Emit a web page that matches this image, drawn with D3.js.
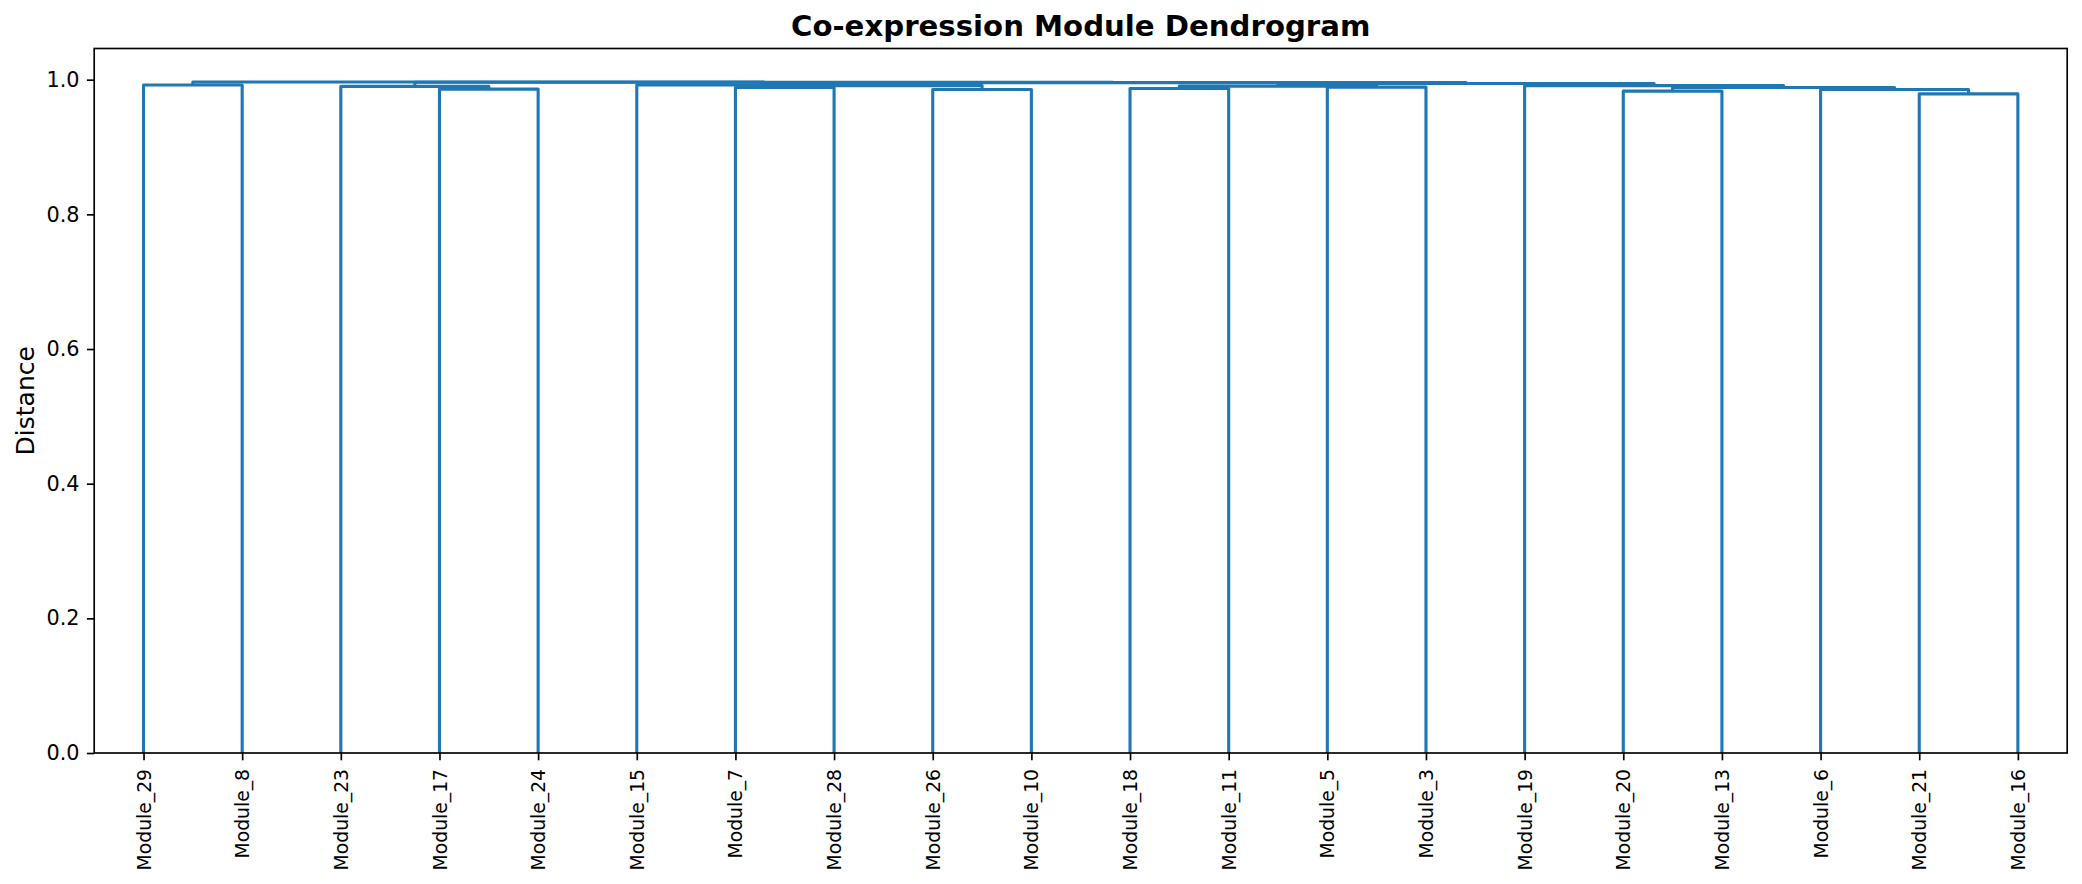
<!DOCTYPE html>
<html><head><meta charset="utf-8">
<script src="https://cdn.jsdelivr.net/npm/d3@7"></script>
<style>body{margin:0;background:#fff} svg{display:block} text{font-family:"DejaVu Sans",sans-serif;fill:#000}</style>
</head><body>
<svg id="chart" width="2082" height="884"></svg>
<script>
// Leaves (indices 0..19)
const leafLabels = ["Module_29","Module_8","Module_23","Module_17","Module_24","Module_15","Module_7","Module_28","Module_26","Module_10",
                    "Module_18","Module_11","Module_5","Module_3","Module_19","Module_20","Module_13","Module_6","Module_21","Module_16"];
// Linkage rows: index >= 20 refers to row (index-20)
const linkLeft   = [18, 15, 3, 8, 17, 10, 21, 6, 12, 2, 25, 14, 27, 0, 5, 30, 34, 29, 33];
const linkRight  = [19, 16, 4, 9, 20, 11, 24, 7, 13, 22, 28, 26, 23, 1, 32, 31, 35, 36, 37];
const linkHeight = [0.979, 0.983, 0.986, 0.9855, 0.9855, 0.987, 0.9885, 0.9885, 0.989, 0.990, 0.9905, 0.9912, 0.9912, 0.9921, 0.9922, 0.9944, 0.9957, 0.9962, 0.9965];
const yTicks = [0.0, 0.2, 0.4, 0.6, 0.8, 1.0];
const titleText = "Co-expression Module Dendrogram";
const yLabelText = "Distance";

const svg = d3.select("#chart");
const L = 94.2, R = 2067.2, T = 48.5, B = 753;
const n = leafLabels.length;

const nodes = leafLabels.map((l, i) => ({id: i, label: l, height: 0}));
linkLeft.forEach((a, k) => nodes.push({id: n + k, height: linkHeight[k], children: [nodes[a], nodes[linkRight[k]]]}));
const root = d3.hierarchy(nodes[nodes.length - 1]);
const leaves = root.leaves();
leaves.forEach((lf, i) => lf.xv = 5 + 10 * i);
root.eachAfter(d => { if (d.children) d.xv = (d.children[0].xv + d.children[1].xv) / 2; });

const maxH = d3.max(linkHeight);
const x = d3.scaleLinear().domain([0, 10 * n]).range([L, R]);
const y = d3.scaleLinear().domain([0, maxH * 1.05]).range([B, T]);

// links
const internals = root.descendants().filter(d => d.children);
svg.append("g").selectAll("path").data(internals).join("path")
  .attr("fill", "none").attr("stroke", "#1f77b4").attr("stroke-width", 3.1)
  .attr("stroke-linejoin", "round").attr("stroke-linecap", "butt")
  .attr("d", d => {
    const [a, b] = d.children;
    return `M${x(a.xv)},${y(a.data.height)}V${y(d.data.height)}H${x(b.xv)}V${y(b.data.height)}`;
  });

// y axis
const yAxis = svg.append("g").attr("transform", `translate(${L},0)`)
  .call(d3.axisLeft(y).tickValues(yTicks).tickFormat(d3.format(".1f")).tickSize(7.3).tickPadding(7.3));
yAxis.select(".domain").remove();
yAxis.selectAll(".tick line").attr("stroke", "#000").attr("stroke-width", 1.67);
yAxis.selectAll(".tick text").attr("font-size", 20.8).attr("font-family", "DejaVu Sans").attr("fill", "#000");

// x axis
const leafPos = leaves.map(l => l.xv);
const leafNames = leaves.map(l => l.data.label);
const xAxis = svg.append("g").attr("transform", `translate(0,${B})`)
  .call(d3.axisBottom(x).tickValues(leafPos).tickFormat((d, i) => leafNames[i]).tickSize(7.3).tickPadding(7.3));
xAxis.select(".domain").remove();
xAxis.selectAll(".tick line").attr("stroke", "#000").attr("stroke-width", 1.67);
xAxis.selectAll(".tick text")
  .attr("font-size", 18.75).attr("font-family", "DejaVu Sans").attr("fill", "#000")
  .attr("transform", "rotate(-90)").attr("text-anchor", "end")
  .attr("x", -16).attr("y", 0).attr("dy", "0.35em");

// frame
svg.append("rect").attr("x", L).attr("y", T).attr("width", R - L).attr("height", B - T)
  .attr("fill", "none").attr("stroke", "#000").attr("stroke-width", 1.67);

// title
svg.append("text").attr("x", (L + R) / 2).attr("y", 36).attr("text-anchor", "middle")
  .attr("font-size", 29.2).attr("font-weight", "bold").text(titleText);

// y label
svg.append("text").attr("transform", `translate(34,${(T + B) / 2}) rotate(-90)`)
  .attr("text-anchor", "middle").attr("font-size", 25).text(yLabelText);
</script>
</body></html>
